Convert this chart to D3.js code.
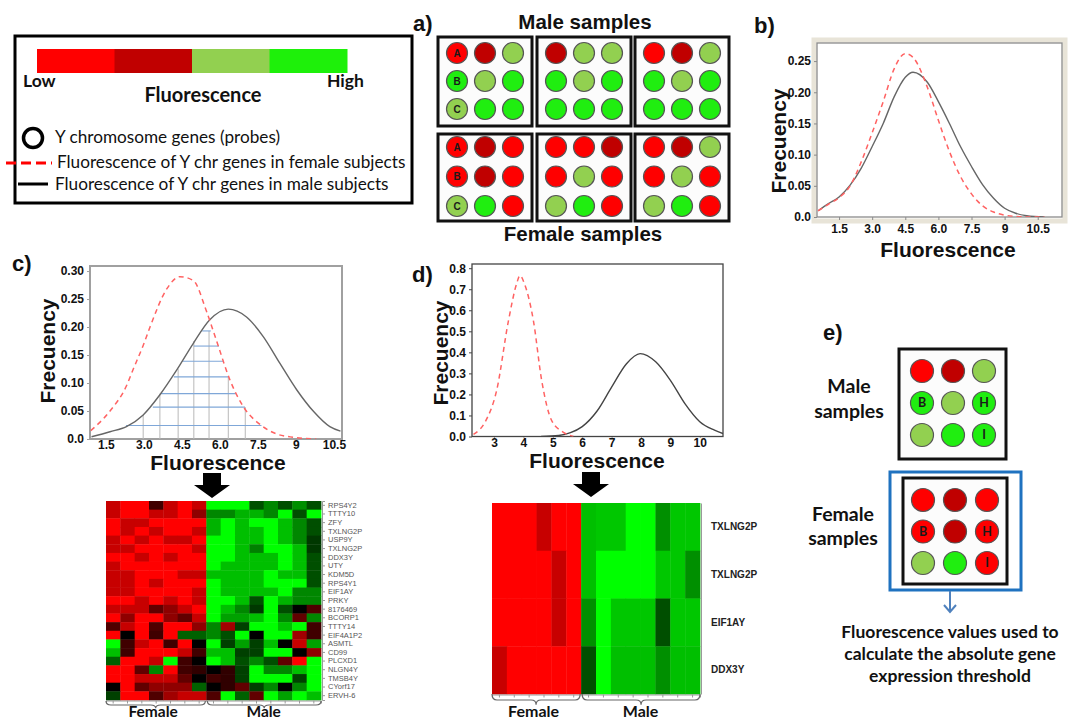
<!DOCTYPE html>
<html>
<head>
<meta charset="utf-8">
<script src="https://cdn.jsdelivr.net/npm/d3@7"></script>
<style>
body{margin:0;background:#fff}
svg{display:block}
</style>
</head>
<body>
<script>
var W=1075, H=721;
var ARIAL="'Liberation Sans', Arial, sans-serif";
var CAL="Lato, 'Open Sans', sans-serif";

// legend
var legendColors=["#ff0000","#c00000","#92d050","#1ef00a"];
var circleColors={R:"#ff0000",D:"#c00000",L:"#92d050",G:"#20ee10"};

// panel a: chips, 3x3 row-major
var maleChips=[["R","D","L","G","L","G","L","G","G"],["D","L","L","G","L","G","G","G","G"],["R","D","L","G","L","G","G","G","G"]];
var femaleChips=[["R","D","R","R","D","R","L","G","R"],["R","R","D","R","L","R","L","G","R"],["R","D","L","R","L","R","L","G","R"]];
var chipLettersA=["A","","","B","","","C","",""];

// panel e
var eMale=["R","D","L","G","L","G","L","G","G"];
var eFemale=["R","D","R","R","D","R","L","G","R"];
var eLetters=["","","","B","","H","","","I"];

// panel b curves
var bX=[0.55,1.0,1.5,2.0,2.5,3.0,3.5,4.0,4.5,4.85,5.5,6.0,6.5,7.0,7.5,8.0,8.5,9.0,9.5,10.0,10.8];
var bMale=[0.010,0.021,0.032,0.051,0.078,0.113,0.150,0.193,0.224,0.232,0.216,0.185,0.150,0.113,0.081,0.052,0.030,0.014,0.006,0.002,0.0];
var bFemale=[0.010,0.020,0.031,0.050,0.088,0.135,0.185,0.238,0.262,0.256,0.208,0.155,0.105,0.065,0.037,0.018,0.008,0.003,0.001,0.0,0.0];
var bXTicks=[1.5,3,4.5,6,7.5,9,10.5], bXLabels=["1.5","3.0","4.5","6.0","7.5","9","10.5"];
var bYTicks=[0,0.05,0.10,0.15,0.20,0.25], bYLabels=["0.0","0.05","0.10","0.15","0.20","0.25"];

// panel c curves
var cFemX=[0.9,1.66,2.31,2.58,2.97,3.24,3.9,4.42,4.95,5.47,5.87,6.4,6.92,7.58,8.24,8.9,9.8];
var cFemale=[0.015,0.05,0.095,0.125,0.167,0.2,0.268,0.290,0.283,0.228,0.175,0.105,0.058,0.026,0.009,0.003,0];
var cMalX=[0.93,1.66,2.31,2.97,3.63,4.29,4.95,5.6,6.33,7.05,7.71,8.37,9.03,9.7,10.34,10.76];
var cMale=[0.004,0.013,0.022,0.043,0.079,0.123,0.171,0.213,0.232,0.218,0.183,0.135,0.088,0.049,0.022,0.014];
var cHatchRows=[[0.024,2.29,7.64],[0.057,3.35,6.99],[0.081,3.67,6.63],[0.111,4.18,6.33],[0.139,4.52,6.16],[0.166,4.97,5.96],[0.193,5.3,5.64]];
var cHatchCols=[[2.97,0.043],[3.63,0.081],[4.35,0.125],[4.97,0.175],[5.57,0.193],[6.33,0.111],[7.0,0.057]];
var cXTicks=[1.5,3,4.5,6,7.5,9,10.5], cXLabels=["1.5","3.0","4.5","6.0","7.5","9","10.5"];
var cYTicks=[0,0.05,0.10,0.15,0.20,0.25,0.30], cYLabels=["0.0","0.05","0.10","0.15","0.20","0.25","0.30"];

// panel d curves
var dFemX=[2.3,2.7,3.09,3.49,3.77,3.88,4.05,4.34,4.62,4.96,5.36,5.7];
var dFemale=[0.01,0.07,0.22,0.55,0.727,0.765,0.72,0.55,0.267,0.076,0.02,0.0];
var dMalX=[4.6,5.2,5.6,6.0,6.5,7.0,7.5,7.97,8.5,9.0,9.5,10.0,10.5,10.79];
var dMale=[0.0,0.005,0.018,0.047,0.12,0.235,0.345,0.394,0.355,0.267,0.155,0.07,0.03,0.014];
var dXTicks=[3,4,5,6,7,8,9,10];
var dYTicks=[0,0.1,0.2,0.3,0.4,0.5,0.6,0.7,0.8];

// heatmap c
var genesC=["RPS4Y2","TTTY10","ZFY","TXLNG2P","USP9Y","TXLNG2P","DDX3Y","UTY","KDM5D","RPS4Y1","EIF1AY","PRKY","8176469","BCORP1","TTTY14","EIF4A1P2","ASMTL","CD99","PLCXD1","NLGN4Y","TMSB4Y","CYorf17","ERVH-6"];
var heatC=[
[-0.78,-1,-1,-0.25,-0.78,-1,-0.78, 1,1,1,0.31,0.53,0.31,0.56,0.31],
[-0.78,-1,-1,-0.78,-0.78,-1,-0.56, 0.53,0.53,0.7,0.7,0.53,1,0.31,1],
[-1,-0.78,-0.78,-1,-1,-1,-1, 0.7,1,0.75,1,1,0.75,0.53,0.31],
[-1,-0.78,-1,-0.78,-1,-1,-0.78, 0.7,1,0.75,0.75,1,0.75,0.53,0.31],
[-0.78,-1,-0.78,-1,-0.78,-0.78,-1, 1,1,0.75,0.75,1,0.75,0.53,0.22],
[-0.78,-0.78,-1,-1,-1,-1,-0.78, 1,1,0.75,0.5,1,1,0.75,0.22],
[-1,-1,-0.78,-1,-0.78,-1,-1, 1,1,0.75,0.75,0.75,1,0.75,0.31],
[-0.78,-1,-1,-1,-1,-1,-1, 1,0.75,0.75,0.75,0.75,1,0.75,0.31],
[-0.78,-0.78,-1,-1,-1,-0.78,-0.78, 0.75,0.75,0.75,0.75,1,0.75,0.75,0.31],
[-0.78,-0.78,-1,-0.78,-1,-1,-1, 1,0.75,0.75,0.75,1,1,1,0.31],
[-0.78,-0.78,-1,-1,-1,-1,-0.78, 1,0.75,0.75,0.75,0.75,1,0.53,0.53],
[-1,-1,-0.78,-1,-0.78,-1,-0.78, 1,1,0.75,0.31,1,0.7,0.53,0.53],
[-0.78,-0.78,-0.78,-0.38,-0.56,-0.78,-1, 1,0.75,0.53,0.22,1,0.31,0,-0.31],
[-1,-0.56,-1,-1,-0.56,-0.38,-0.78, 1,0.63,0.63,0.75,1,0.53,-0.38,0.53],
[-0.31,-0.78,-1,-0.31,-1,-1,-0.56, 0.53,-0.63,0.25,1,1,0.75,1,-0.25],
[-1,0,-1,-0.25,-1,0.38,0.38, 0.53,0.31,1,0,1,1,-0.63,-0.25],
[1,-0.25,-0.78,-1,-0.25,-1,0, 1,0.25,0.63,0.25,0.75,0,-0.78,0.63],
[0.75,-0.25,-1,-1,-1,-0.78,-0.25, 0.75,0.75,0.25,0.25,1,1,0,-0.56],
[0.38,-1,-1,-0.78,1,-0.25,0, 1,0.75,0.31,0.53,0.31,-0.38,-1,1],
[-1,-1,-0.38,0.53,-1,-0.25,-0.19, 0,-0.19,0.25,1,0.53,0.53,0.75,1],
[-1,-1,-0.78,-0.78,-0.78,-0.38,0, -0.25,-0.19,0.25,1,1,1,0.25,1],
[0,-1,-0.38,-0.56,-0.56,-0.56,0.38, 0,-0.19,-0.38,0.25,0.53,0,0.53,1],
[0.25,-1,-1,-0.31,-0.63,-0.78,-0.78, -0.31,1,0.38,-0.38,1,0.63,1,0.75]
];
var nFemC=7;

// heatmap d
var genesD=["TXLNG2P","TXLNG2P","EIF1AY","DDX3Y"];
var heatD=[
[-1,-1,-1,-0.78,-1,-1, 0.75,0.78,0.78,1,1,0.56,0.78,0.78],
[-1,-1,-1,-1,-0.78,-1, 0.75,1,1,1,1,0.78,0.78,0.56],
[-1,-1,-1,-1,-0.78,-1, 0.56,1,0.78,0.78,0.78,0.31,0.78,0.78],
[-0.78,-1,-1,-1,-1,-1, 0.31,1,0.75,0.75,0.75,0.56,0.75,0.75]
];
var nFemD=6;

var svg=d3.select("body").append("svg").attr("width",W).attr("height",H);
svg.append("rect").attr("width",W).attr("height",H).attr("fill","#fff");

function txt(x,y,s,size,weight,font,anchor){
  return svg.append("text").attr("x",x).attr("y",y).text(s)
    .attr("font-size",size).attr("font-weight",weight||"normal")
    .attr("font-family",font||ARIAL).attr("text-anchor",anchor||"start").attr("fill","#111");
}

// ---------- legend ----------
svg.append("rect").attr("x",15).attr("y",36).attr("width",397).attr("height",167)
  .attr("fill","#fff").attr("stroke","#000").attr("stroke-width",3);
var lx=d3.scaleBand().domain(d3.range(legendColors.length)).range([37,347]);
svg.selectAll(".lbar").data(legendColors).enter().append("rect")
  .attr("x",function(d,i){return lx(i);}).attr("y",49)
  .attr("width",lx.bandwidth()+0.5).attr("height",24).attr("fill",function(d){return d;});
txt(23,87,"Low",17.5,"bold",CAL);
txt(327,87,"High",17.5,"bold",CAL);
txt(203,102,"Fluorescence",20,"bold",CAL,"middle");
svg.append("circle").attr("cx",33).attr("cy",138).attr("r",9.5).attr("fill","none").attr("stroke","#000").attr("stroke-width",3.5);
txt(55,143,"Y chromosome genes (probes)",17.2,"normal",CAL);
svg.append("line").attr("x1",6).attr("x2",52).attr("y1",163).attr("y2",163).attr("stroke","#ff0000").attr("stroke-width",3).attr("stroke-dasharray","10,5");
txt(57,168,"Fluorescence of Y chr genes in female subjects",17.2,"normal",CAL);
svg.append("line").attr("x1",18).attr("x2",48).attr("y1",184).attr("y2",184).attr("stroke","#000").attr("stroke-width",3);
txt(55,190,"Fluorescence of Y chr genes in male subjects",17.2,"normal",CAL);

// ---------- chips ----------
function chip(x0,y0,w,h,colors,letters,r,fs,pad,font){
  svg.append("rect").attr("x",x0).attr("y",y0).attr("width",w).attr("height",h)
    .attr("fill","#fcfcfc").attr("stroke","#111").attr("stroke-width",3);
  var px=d3.scalePoint().domain([0,1,2]).range([x0+pad[0],x0+w-pad[1]]);
  var py=d3.scalePoint().domain([0,1,2]).range([y0+pad[2],y0+h-pad[3]]);
  var g=svg.append("g");
  g.selectAll("circle").data(colors).enter().append("circle")
    .attr("cx",function(d,i){return px(i%3);}).attr("cy",function(d,i){return py(Math.floor(i/3));})
    .attr("r",r).attr("fill",function(d){return circleColors[d];})
    .attr("stroke","#555").attr("stroke-width",1.2);
  g.selectAll("text").data(letters).enter().append("text")
    .attr("x",function(d,i){return px(i%3);}).attr("y",function(d,i){return py(Math.floor(i/3));})
    .attr("dy","0.35em").attr("text-anchor","middle").attr("font-size",fs).attr("font-weight","bold")
    .attr("font-family",font).attr("fill","#1a1a1a").text(function(d){return d;});
}
var aBoxX=[438,537,635];
maleChips.forEach(function(c,i){chip(aBoxX[i],37,94,89,c,i===0?chipLettersA:[],10.5,10,[19,19,16,17],ARIAL);});
femaleChips.forEach(function(c,i){chip(aBoxX[i],134,94,87,c,i===0?chipLettersA:[],10.5,10,[19,19,13,15],ARIAL);});
txt(413,31,"a)",22,"bold");
txt(585,29,"Male samples",20.5,"bold",ARIAL,"middle");
txt(583,241,"Female samples",20.5,"bold",ARIAL,"middle");

// ---------- density panels ----------
function densityPanel(o){
  var x=d3.scaleLinear().domain(o.xd).range([o.x0,o.x1]);
  var y=d3.scaleLinear().domain(o.yd).range([o.y1,o.y0]);
  if(o.frame){
    svg.append("rect").attr("x",o.x0-3).attr("y",o.y0-3).attr("width",o.x1-o.x0+6).attr("height",o.y1-o.y0+7)
      .attr("fill","none").attr("stroke","#e8e4d8").attr("stroke-width",5);
  }
  svg.append("rect").attr("x",o.x0).attr("y",o.y0).attr("width",o.x1-o.x0).attr("height",o.y1-o.y0)
    .attr("fill","#fff").attr("stroke",o.boxColor).attr("stroke-width",o.boxWidth);
  var ax=svg.append("g").attr("transform","translate(0,"+o.y1+")")
    .call(d3.axisBottom(x).tickValues(o.xt).tickFormat(function(d,i){return o.xl[i];}).tickSize(o.xts).tickPadding(o.xtp));
  var ay=svg.append("g").attr("transform","translate("+o.x0+",0)")
    .call(d3.axisLeft(y).tickValues(o.yt).tickFormat(function(d,i){return o.yl[i];}).tickSize(3).tickPadding(3));
  [ax,ay].forEach(function(a){
    a.select(".domain").remove();
    a.selectAll("line").attr("stroke",o.boxColor);
    a.selectAll("text").attr("font-size",12).attr("font-weight","bold").attr("font-family",ARIAL).attr("fill","#111");
  });
  var clip="clip"+o.id;
  svg.append("clipPath").attr("id",clip).append("rect").attr("x",o.x0).attr("y",o.y0-20).attr("width",o.x1-o.x0).attr("height",o.y1-o.y0+20);
  var g=svg.append("g").attr("clip-path","url(#"+clip+")");
  if(o.extra) o.extra(g,x,y);
  var line=d3.line().curve(d3.curveMonotoneX);
  g.append("path").attr("d",line(o.maleX.map(function(v,i){return [x(v),y(o.male[i])];})))
    .attr("fill","none").attr("stroke",o.maleColor).attr("stroke-width",1.4);
  g.append("path").attr("d",line(o.femX.map(function(v,i){return [x(v),y(o.fem[i])];})))
    .attr("fill","none").attr("stroke","#ff6262").attr("stroke-width",1.5).attr("stroke-dasharray","5,4");
  txt(o.ylab[0],o.ylab[1],"Frecuency",21,"bold").attr("transform","rotate(-90,"+o.ylab[0]+","+o.ylab[1]+")")
    .attr("x",o.ylab[0]).attr("text-anchor","middle");
  txt(o.xlab[0],o.xlab[1],"Fluorescence",21,"bold",ARIAL,"middle");
}

densityPanel({id:"b",x0:817,x1:1062,y0:43,y1:217,xd:[0.5,11.6],yd:[0,0.279],frame:true,boxColor:"#8a8a8a",boxWidth:1.3,
  xt:bXTicks,xl:bXLabels,xts:3,xtp:4,yt:bYTicks,yl:bYLabels,
  maleX:bX,male:bMale,femX:bX,fem:bFemale,maleColor:"#666",ylab:[786,141],xlab:[948,257]});
txt(754,33,"b)",22,"bold");

densityPanel({id:"c",x0:90,x1:342,y0:266,y1:439,xd:[0.87,10.82],yd:[0,0.309],frame:false,boxColor:"#a0a0a0",boxWidth:2,
  xt:cXTicks,xl:cXLabels,xts:1,xtp:0.5,yt:cYTicks,yl:cYLabels,
  maleX:cMalX,male:cMale,femX:cFemX,fem:cFemale,maleColor:"#666",ylab:[55,351],xlab:[218,470],
  extra:function(g,x,y){
    g.selectAll(".hc").data(cHatchCols).enter().append("line")
      .attr("x1",function(d){return x(d[0]);}).attr("x2",function(d){return x(d[0]);})
      .attr("y1",y(0)).attr("y2",function(d){return y(d[1]);})
      .attr("stroke","#b8b8b8").attr("stroke-width",1);
    g.selectAll(".hr").data(cHatchRows).enter().append("line")
      .attr("x1",function(d){return x(d[1]);}).attr("x2",function(d){return x(d[2]);})
      .attr("y1",function(d){return y(d[0]);}).attr("y2",function(d){return y(d[0]);})
      .attr("stroke","#7fa7d8").attr("stroke-width",1.1);
  }});
txt(12,271,"c)",22,"bold");

densityPanel({id:"d",x0:472,x1:723,y0:264,y1:436.5,xd:[2.25,10.79],yd:[0,0.82],frame:false,boxColor:"#444",boxWidth:1.3,
  xt:dXTicks,xl:dXTicks.map(String),xts:1,xtp:0.5,yt:dYTicks,yl:dYTicks.map(function(d){return d3.format(".1f")(d);}),
  maleX:dMalX,male:dMale,femX:dFemX,fem:dFemale,maleColor:"#444",ylab:[448,353],xlab:[597,468]});
txt(412,282,"d)",22,"bold");

// ---------- block arrows ----------
function blockArrow(cx,y0){
  svg.append("path").attr("d","M"+(cx-9)+","+y0+"h18v12h9l-18,13l-18,-13h9z").attr("fill","#000");
}
blockArrow(212,473);
blockArrow(591,472);

// ---------- heatmaps ----------
var heatColor=d3.scaleLinear().domain([-1,0,1]).range(["#ff0000","#000000","#00ff00"]);
function brace(x0,x1,y,h){
  var m=(x0+x1)/2;
  svg.append("path").attr("d","M"+x0+","+y+"q0,"+h+" 5,"+h+"H"+(m-5)+"q5,0 5,"+(h*0.8)+"q0,"+(-h*0.8)+" 5,"+(-h*0.8)+"H"+(x1-5)+"q5,0 5,"+(-h))
    .attr("fill","none").attr("stroke","#666").attr("stroke-width",1.2);
}
function heatmap(data,genes,nFem,x0,x1,y0,y1,labelFn,braceY,braceH,textY,fs){
  var cols=data[0].length;
  var hx=d3.scaleBand().domain(d3.range(cols)).range([x0,x1]);
  var hy=d3.scaleBand().domain(d3.range(data.length)).range([y0,y1]);
  var g=svg.append("g");
  data.forEach(function(row,r){
    g.selectAll(".r"+r).data(row).enter().append("rect")
      .attr("x",function(d,c){return hx(c);}).attr("y",hy(r))
      .attr("width",hx.bandwidth()+0.4).attr("height",hy.bandwidth()+0.4)
      .attr("fill",function(d){return heatColor(d);});
  });
  var ar=svg.append("g").attr("transform","translate("+(x1+1)+",0)")
    .call(d3.axisRight(hy).tickFormat(function(i){return genes[i];}).tickSize(labelFn.ts).tickPadding(labelFn.tp));
  ar.select(".domain").attr("stroke","#999");
  ar.selectAll("line").attr("stroke","#999");
  ar.selectAll("text").attr("font-size",labelFn.size).attr("font-weight",labelFn.weight)
    .attr("font-family",ARIAL).attr("fill",labelFn.color);
  var ab=svg.append("g").attr("transform","translate(0,"+(y1+0.5)+")")
    .call(d3.axisBottom(hx).tickFormat("").tickSize(3));
  ab.select(".domain").attr("stroke","#999");
  ab.selectAll("line").attr("stroke","#999");
  var xm=hx(nFem);
  brace(x0,xm-1,braceY,braceH);
  brace(xm+1,x1,braceY,braceH);
  txt((x0+xm)/2-3,textY,"Female",fs,"bold",CAL,"middle");
  txt((xm+x1)/2,textY,"Male",fs,"bold",CAL,"middle");
}
heatmap(heatC,genesC,nFemC,106,321,501,700,{ts:3,tp:3,size:7.5,weight:"normal",color:"#555"},701,4,717,15.5);
heatmap(heatD,genesD,nFemD,492,700,503,694,{ts:0,tp:10,size:10,weight:"bold",color:"#222"},694,6,717,16);

// ---------- panel e ----------
txt(823,340,"e)",22,"bold");
chip(899,349,107,110,eMale,eLetters,11.5,12.5,[23,22,22,24],CAL);
svg.append("rect").attr("x",890).attr("y",472).attr("width",131).attr("height",118)
  .attr("fill","none").attr("stroke","#1f72c0").attr("stroke-width",3);
chip(903,478,104,106,eFemale,eLetters,11.5,12.5,[20,20,22,21],CAL);
txt(849,393,"Male",19.5,"bold",CAL,"middle");
txt(849,418,"samples",19.5,"bold",CAL,"middle");
txt(843,521,"Female",19.5,"bold",CAL,"middle");
txt(843,545,"samples",19.5,"bold",CAL,"middle");
svg.append("path").attr("d","M950,591V612M944,605L950,612L956,605").attr("fill","none")
  .attr("stroke","#4f81bd").attr("stroke-width",2);
txt(950,638,"Fluorescence values used to",17.5,"bold",CAL,"middle");
txt(950,660,"calculate the absolute gene",17.5,"bold",CAL,"middle");
txt(950,682,"expression threshold",17.5,"bold",CAL,"middle");
</script>
</body>
</html>
